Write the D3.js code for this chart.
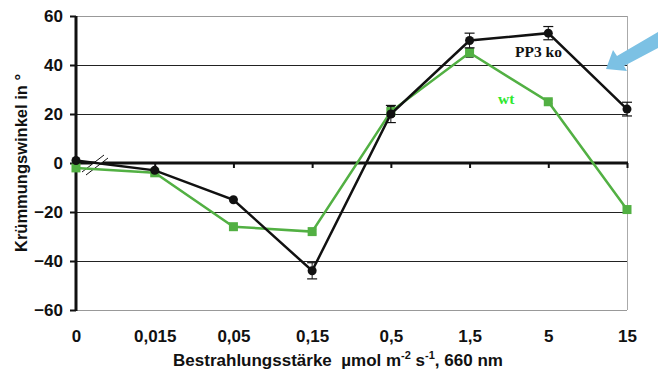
<!DOCTYPE html>
<html>
<head>
<meta charset="utf-8">
<script src="https://cdn.jsdelivr.net/npm/d3@7"></script>
<style>
  body { margin: 0; background: #fff; }
  svg { display: block; font-family: "Liberation Sans", Arial, sans-serif; }
</style>
</head>
<body>
<svg id="chart" width="658" height="374"></svg>
<script>
const categories = ['0', '0,015', '0,05', '0,15', '0,5', '1,5', '5', '15'];
const koValues = [1, -3, -15, -44, 20, 50, 53, 22];
const koErrors = [0, 0, 0, 3.3, 3.5, 3, 2.7, 2.8];
const wtValues = [-2, -4, -26, -28, 21, 45, 25, -19];
const wtErrors = [0, 0, 0, 1, 2, 1.8, 0.8, 0.8];
const yTicks = [-60, -40, -20, 0, 20, 40, 60];

const BLACK = '#111';
const GREEN = '#52b043';
const FONT = '"Liberation Sans", Arial, sans-serif';

const svg = d3.select('#chart');

const x = d3.scalePoint().domain(categories).range([76, 627]);
const y = d3.scaleLinear().domain([-60, 60]).range([310, 16]);

// gridlines
svg.append('g')
  .selectAll('line')
  .data(yTicks.filter(d => d !== 0))
  .enter()
  .append('line')
  .attr('x1', 76)
  .attr('x2', 627)
  .attr('y1', d => Math.round(y(d)) + 0.5)
  .attr('y2', d => Math.round(y(d)) + 0.5)
  .attr('stroke', d => Math.abs(d) === 60 ? '#999' : '#222')
  .attr('stroke-width', 1);

// right frame
svg.append('line')
  .attr('x1', 627.5).attr('x2', 627.5)
  .attr('y1', y(60)).attr('y2', y(-60))
  .attr('stroke', '#aaa');

// y axis
const yAxisEl = svg.append('g')
  .attr('transform', 'translate(76,0)')
  .call(d3.axisLeft(y).tickValues(yTicks).tickSize(6).tickFormat(d3.format('d')));
yAxisEl.select('.domain').attr('stroke', BLACK).attr('stroke-width', 3).attr('d', `M0,${y(60)}V${y(-60) + 1}`);
yAxisEl.selectAll('.tick line').attr('stroke', BLACK).attr('stroke-width', 2);
yAxisEl.selectAll('.tick text')
  .attr('x', -13)
  .style('font-size', '17px')
  .style('font-weight', 'bold')
  .style('font-family', FONT)
  .attr('fill', BLACK);

// zero line with ticks
const zeroAxis = svg.append('g')
  .attr('transform', `translate(0,${y(0)})`)
  .call(d3.axisBottom(x).tickSize(5).tickFormat(''));
zeroAxis.select('.domain').attr('stroke', BLACK).attr('stroke-width', 3).attr('d', `M76,0H628`);
zeroAxis.selectAll('.tick line').attr('stroke', BLACK).attr('stroke-width', 2);
zeroAxis.selectAll('.tick').filter((d, i) => i === 0).remove();

// x labels
const xLabels = svg.append('g')
  .attr('transform', 'translate(0,327)')
  .call(d3.axisBottom(x).tickSize(0));
xLabels.select('.domain').remove();
xLabels.selectAll('text')
  .style('font-size', '17px')
  .style('font-weight', 'bold')
  .style('font-family', FONT)
  .attr('fill', BLACK);

// axis break mark
const brk = svg.append('g');
brk.append('path')
  .attr('d', 'M82,172 L104,155 L108,158 L86,175 Z')
  .attr('fill', '#fff');
brk.append('line').attr('x1', 82).attr('y1', 172).attr('x2', 104).attr('y2', 155)
  .attr('stroke', BLACK).attr('stroke-width', 1);
brk.append('line').attr('x1', 86).attr('y1', 175).attr('x2', 108).attr('y2', 158)
  .attr('stroke', BLACK).attr('stroke-width', 1);

function drawSeries(values, errors, color, shape) {
  const pts = values.map((v, i) => ({ c: categories[i], v, e: errors[i] }));
  const g = svg.append('g');
  g.append('path')
    .datum(pts)
    .attr('fill', 'none')
    .attr('stroke', color)
    .attr('stroke-width', 2.5)
    .attr('d', d3.line().x(d => x(d.c)).y(d => y(d.v)));
  const eb = g.selectAll('.eb').data(pts.filter(d => d.e > 0)).enter().append('g');
  const cap = shape === 'circle' ? 5 : 4;
  eb.append('line')
    .attr('x1', d => x(d.c)).attr('x2', d => x(d.c))
    .attr('y1', d => y(d.v + d.e)).attr('y2', d => y(d.v - d.e))
    .attr('stroke', BLACK).attr('stroke-width', 1);
  for (const s of [1, -1]) {
    eb.append('line')
      .attr('x1', d => x(d.c) - cap).attr('x2', d => x(d.c) + cap)
      .attr('y1', d => y(d.v + s * d.e)).attr('y2', d => y(d.v + s * d.e))
      .attr('stroke', BLACK).attr('stroke-width', 1.2);
  }
  if (shape === 'circle') {
    g.selectAll('.pt').data(pts).enter().append('circle')
      .attr('cx', d => x(d.c)).attr('cy', d => y(d.v)).attr('r', 4.5)
      .attr('fill', color);
  } else {
    g.selectAll('.pt').data(pts).enter().append('rect')
      .attr('x', d => x(d.c) - 4.5).attr('y', d => y(d.v) - 4.5)
      .attr('width', 9).attr('height', 9)
      .attr('fill', color);
  }
}

drawSeries(wtValues, wtErrors, GREEN, 'square');
drawSeries(koValues, koErrors, BLACK, 'circle');

// series labels
svg.append('text')
  .attr('x', 515).attr('y', 57)
  .style('font-family', '"Liberation Serif", "Times New Roman", serif')
  .style('font-weight', 'bold')
  .style('font-size', '15.5px')
  .attr('fill', BLACK)
  .text('PP3 ko');
svg.append('text')
  .attr('x', 498).attr('y', 104)
  .style('font-family', '"Liberation Serif", "Times New Roman", serif')
  .style('font-weight', 'bold')
  .style('font-size', '15.5px')
  .attr('fill', '#2ee82e')
  .text('wt');

// arrow
svg.append('path')
  .attr('d', 'M606,69 L613,50 L617,56 L658,32 L658,48 L624,66 L627,71 Z')
  .attr('fill', '#7cc1e4');

// axis titles
svg.append('text')
  .attr('transform', 'translate(27,163) rotate(-90)')
  .attr('text-anchor', 'middle')
  .style('font-size', '16.5px')
  .style('font-weight', 'bold')
  .attr('fill', BLACK)
  .text('Krümmungswinkel in °');

const xt = svg.append('text')
  .attr('x', 338).attr('y', 366)
  .attr('text-anchor', 'middle')
  .style('font-size', '17px')
  .style('font-weight', 'bold')
  .attr('fill', BLACK);
xt.append('tspan').text('Bestrahlungsstärke\u00a0 µmol m');
xt.append('tspan').attr('dy', -7).style('font-size', '11px').text('-2');
xt.append('tspan').attr('dy', 7).text(' s');
xt.append('tspan').attr('dy', -7).style('font-size', '11px').text('-1');
xt.append('tspan').attr('dy', 7).text(', 660 nm');
</script>
</body>
</html>
